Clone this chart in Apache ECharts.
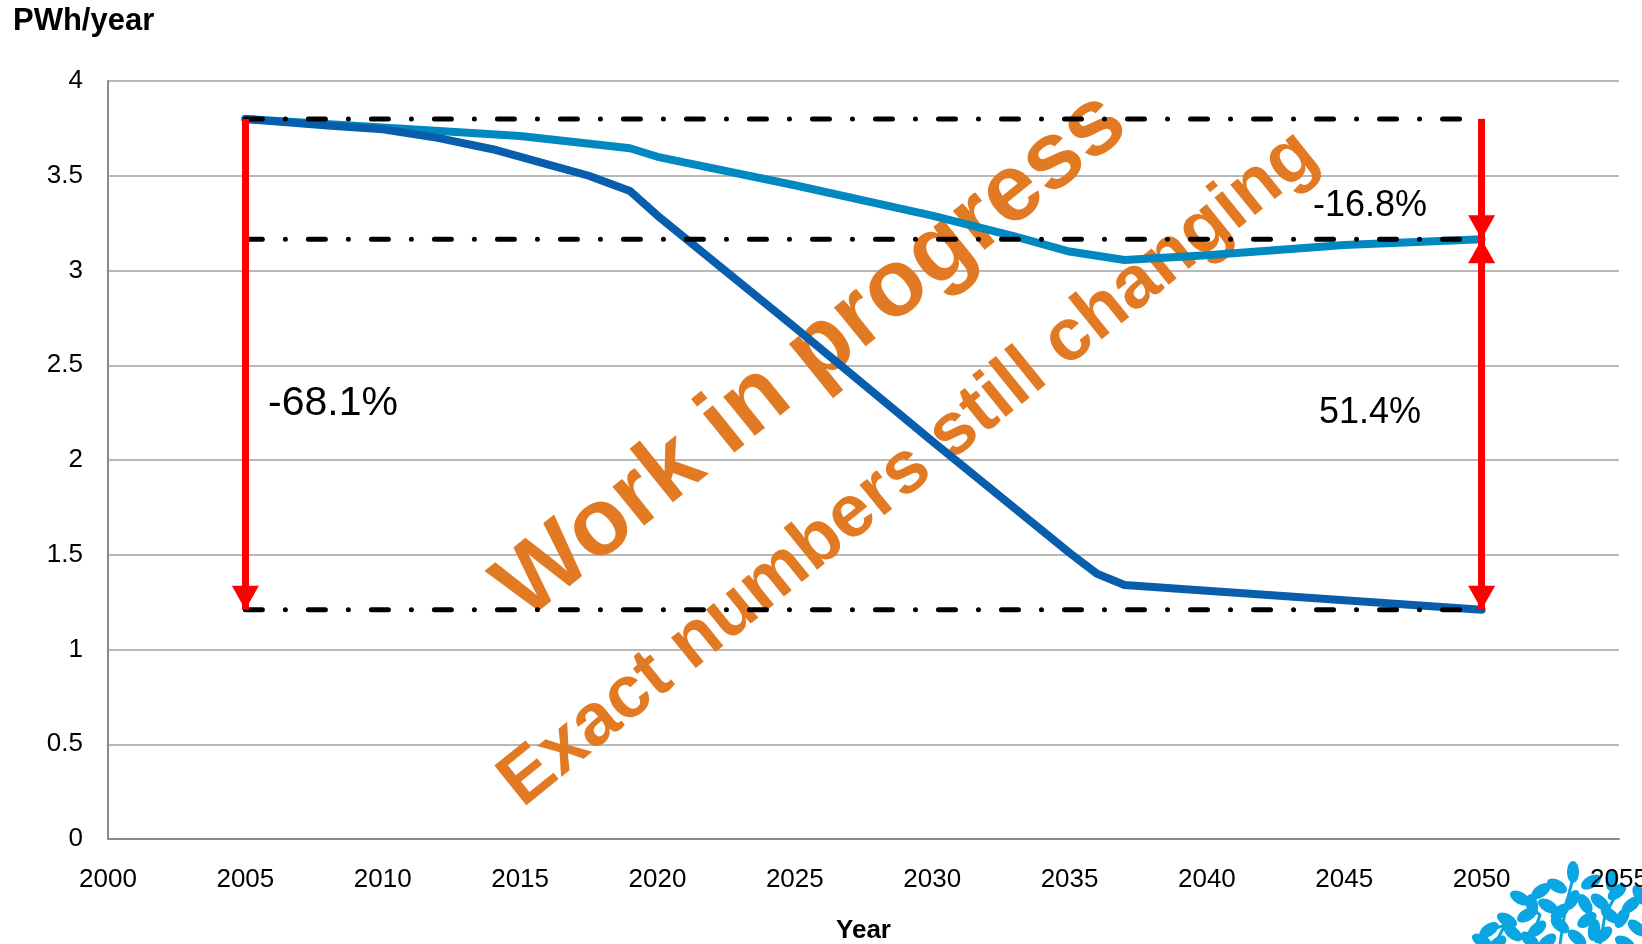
<!DOCTYPE html>
<html>
<head>
<meta charset="utf-8">
<title>PWh/year</title>
<script src="https://cdn.jsdelivr.net/npm/echarts@6/dist/echarts.min.js"></script>
<style>
html, body { margin: 0; padding: 0; background: #fff; }
#chart1 { width: 1642px; height: 944px; }
</style>
</head>
<body>
<div id="chart1"></div>
<script>
// 数据
var darkYears = [2005, 2008, 2010, 2012, 2014, 2016, 2017.5, 2019, 2020, 2025, 2030, 2035, 2036, 2037, 2040, 2045, 2050];
var darkValues = [3.80, 3.765, 3.745, 3.70, 3.64, 3.56, 3.50, 3.42, 3.29, 2.70, 2.10, 1.51, 1.40, 1.34, 1.31, 1.26, 1.21];

var lightYears = [2005, 2010, 2015, 2019, 2020, 2025, 2030, 2033, 2035, 2037, 2040, 2045, 2050];
var lightValues = [3.80, 3.755, 3.71, 3.645, 3.60, 3.45, 3.29, 3.18, 3.10, 3.055, 3.08, 3.135, 3.165];

// horizontal reference levels and the years they span
var refLevels = [3.80, 3.165, 1.21];
var refYears = [2005, 2050];

// percentage labels
var changeLabels = ['-68.1%', '-16.8%', '51.4%'];

var FONT = "'Liberation Sans', Arial, sans-serif";

function pairs(xs, ys) {
    var out = [];
    for (var i = 0; i < xs.length; i++) out.push([xs[i], ys[i]]);
    return out;
}

var chart1 = echarts.init(document.getElementById('chart1'));

// dash-dot reference lines
var refSeries = refLevels.map(function (v) {
    return {
        type: 'line',
        data: [[refYears[0], v], [refYears[1], v]],
        symbol: 'none',
        silent: true,
        z: 4,
        lineStyle: { color: '#000', width: 5, type: [17, 23, 0.01, 23], cap: 'round' }
    };
});

// red arrows
var head = [27, 24];
function arrowEnd(coord, hasHead) {
    return {
        coord: coord,
        symbol: hasHead ? 'triangle' : 'none',
        symbolSize: head,
        symbolOffset: [0, head[1] / 2]
    };
}
var arrowData = [
    [arrowEnd([refYears[0], refLevels[0]], false), arrowEnd([refYears[0], refLevels[2]], true)],
    [arrowEnd([refYears[1], refLevels[0]], false), arrowEnd([refYears[1], refLevels[1]], true)],
    [arrowEnd([refYears[1], refLevels[1]], true), arrowEnd([refYears[1], refLevels[2]], true)]
];

// bottom-right leaf logo (decoration)
var leaves = [
    [1573, 872, 90], [1591, 882, 30], [1557, 886, 150], [1541, 891, 35], [1520, 898, 150],
    [1617, 892, 40], [1600, 902, 140], [1572, 900, 60], [1548, 906, 150], [1527, 915, 30],
    [1507, 920, 150], [1489, 930, 35], [1513, 933, 140], [1537, 929, 40], [1560, 925, 140],
    [1587, 920, 35], [1610, 915, 140], [1631, 905, 40], [1637, 928, 140], [1482, 941, 150],
    [1547, 942, 40], [1577, 938, 140], [1603, 935, 40], [1625, 943, 150], [1585, 904, 120],
    [1560, 912, 40], [1622, 918, 60], [1497, 944, 40], [1530, 940, 140], [1640, 895, 120],
    [1612, 880, 80], [1532, 905, 100], [1594, 930, 80]
];
var logo = leaves.map(function (l) {
    return {
        type: 'ellipse', x: l[0], y: l[1], rotation: l[2] * Math.PI / 180,
        shape: { cx: 0, cy: 0, rx: 11, ry: 6 },
        style: { fill: '#0AA6E3' }, z: 1, silent: true
    };
});
[
    [[1560, 944], [1566, 905], [1573, 878]],
    [[1530, 944], [1540, 915], [1520, 898]],
    [[1600, 944], [1605, 915], [1617, 893]],
    [[1495, 944], [1505, 925], [1490, 930]]
].forEach(function (pts) {
    logo.push({
        type: 'polyline', silent: true, z: 1,
        shape: { points: pts },
        style: { stroke: '#0AA6E3', lineWidth: 3, fill: null }
    });
});

var rot = 39 * Math.PI / 180;

var option = {
    animation: false,
    backgroundColor: '#fff',
    grid: { left: 108, right: 23, top: 81, bottom: 105, outerBoundsMode: 'none', containLabel: false },
    xAxis: {
        type: 'value', min: 2000, max: 2055, interval: 5, z: 5,
        name: 'Year', nameLocation: 'middle', nameGap: 79,
        nameTextStyle: { fontFamily: FONT, fontWeight: 'bold', fontSize: 26, color: '#000' },
        axisLine: { show: true, lineStyle: { color: '#8a8a8a', width: 2 } },
        axisTick: { show: false },
        splitLine: { show: false },
        axisLabel: {
            margin: 28, fontFamily: FONT, fontSize: 26, color: '#000',
            formatter: function (v) { return String(v); }
        }
    },
    yAxis: {
        type: 'value', min: 0, max: 4, interval: 0.5,
        axisLine: { show: true, lineStyle: { color: '#8a8a8a', width: 2 } },
        axisTick: { show: false },
        splitLine: { show: true, lineStyle: { color: '#a0a0a0', width: 1.5 } },
        axisLabel: { margin: 25, fontFamily: FONT, fontSize: 26, color: '#000' }
    },
    graphic: [
        {
            type: 'text', left: 13, top: 6, z: 10,
            style: { text: 'PWh/year', font: 'bold 31px ' + FONT, fill: '#000' }
        },
        {
            type: 'text', x: 812, y: 356, rotation: rot, z: 1, silent: true,
            style: { text: 'Work in progress', font: 'bold 95px ' + FONT, fill: '#E27A23', align: 'center', verticalAlign: 'middle' }
        },
        {
            type: 'text', x: 909, y: 469, rotation: rot, z: 1, silent: true,
            style: { text: 'Exact numbers still changing', font: 'bold 74px ' + FONT, fill: '#E27A23', align: 'center', verticalAlign: 'middle' }
        },
        {
            type: 'text', x: 333, y: 404, z: 10,
            style: { text: changeLabels[0], font: '41px ' + FONT, fill: '#000', align: 'center', verticalAlign: 'middle' }
        },
        {
            type: 'text', x: 1370, y: 206, z: 10,
            style: { text: changeLabels[1], font: '36px ' + FONT, fill: '#000', align: 'center', verticalAlign: 'middle' }
        },
        {
            type: 'text', x: 1370, y: 413, z: 10,
            style: { text: changeLabels[2], font: '36px ' + FONT, fill: '#000', align: 'center', verticalAlign: 'middle' }
        }
    ].concat(logo),
    series: [
        {
            name: 'light', type: 'line', data: pairs(lightYears, lightValues),
            symbol: 'none', z: 2, silent: true,
            lineStyle: { color: '#0089C1', width: 8, join: 'round', cap: 'round' }
        },
        {
            name: 'dark', type: 'line', data: pairs(darkYears, darkValues),
            symbol: 'none', z: 3, silent: true,
            lineStyle: { color: '#085EAC', width: 8, join: 'round', cap: 'round' }
        }
    ].concat(refSeries, [{
        name: 'arrows', type: 'line', data: [], z: 6, silent: true,
        markLine: {
            silent: true, animation: false,
            label: { show: false },
            lineStyle: { color: '#FF0000', width: 7, type: 'solid' },
            itemStyle: { color: '#FF0000' },
            emphasis: { disabled: true },
            data: arrowData
        }
    }])
};

chart1.setOption(option);
</script>
</body>
</html>
